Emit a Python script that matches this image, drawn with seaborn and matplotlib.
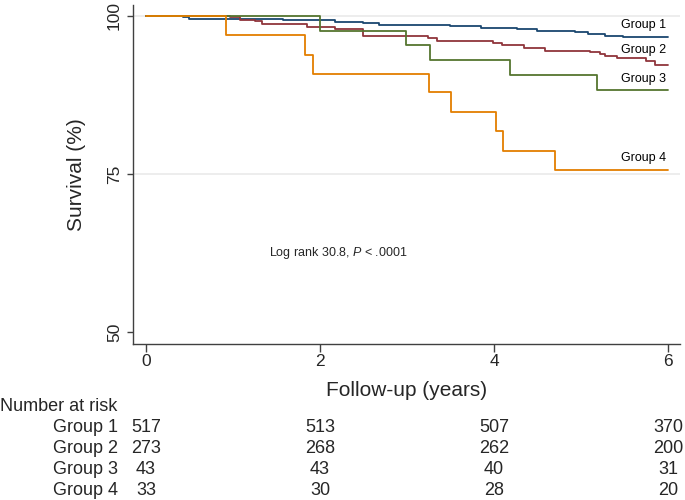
import matplotlib
matplotlib.use("Agg")
import matplotlib.pyplot as plt
import matplotlib.transforms as mtransforms
import seaborn as sns
import pandas as pd

# Kaplan-Meier step values (time in years, survival in %)
groups = ["Group 1", "Group 2", "Group 3", "Group 4"]

g1_time = [0, 0.42, 0.5, 1.57, 2.17, 2.5, 2.68, 3.0, 3.5, 3.85, 4.26, 4.5, 4.93, 5.08, 5.28, 5.48, 6.0]
g1_surv = [100, 99.8, 99.6, 99.3, 99.05, 98.85, 98.65, 98.55, 98.35, 98.1, 97.9, 97.7, 97.45, 97.2, 96.9, 96.6, 96.6]

g2_time = [0, 0.97, 1.08, 1.25, 1.33, 1.85, 2.17, 2.5, 3.24, 3.34, 3.99, 4.09, 4.35, 4.59,
           5.1, 5.22, 5.28, 5.41, 5.75, 5.85, 6.0]
g2_surv = [100, 99.8, 99.4, 99.15, 98.7, 98.25, 97.95, 96.8, 96.45, 96.0, 95.75, 95.35, 94.9, 94.5,
           94.25, 94.0, 93.7, 93.3, 92.95, 92.3, 92.3]

g3_time = [0, 2.0, 2.99, 3.26, 4.18, 5.18, 6.0]
g3_surv = [100, 97.7, 95.4, 93.0, 90.6, 88.3, 88.3]

g4_time = [0, 0.92, 1.83, 1.92, 3.25, 3.51, 4.02, 4.10, 4.70, 6.0]
g4_surv = [100, 97.0, 93.9, 90.9, 87.9, 84.8, 81.8, 78.7, 75.7, 75.7]

# label positions for the curve names (survival %)
label_y = [98.6, 94.6, 90.0, 77.6]

# number at risk table
risk_times = [0, 2, 4, 6]
risk_g1 = [517, 513, 507, 370]
risk_g2 = [273, 268, 262, 200]
risk_g3 = [43, 43, 40, 31]
risk_g4 = [33, 30, 28, 20]

colors = ["#1a476f", "#90353b", "#55752f", "#e37e00"]

sns.set_style("ticks")
plt.rcParams["font.family"] = ["Liberation Sans", "DejaVu Sans"]
plt.rcParams["mathtext.fontset"] = "custom"
plt.rcParams["mathtext.it"] = "Liberation Sans:italic"
plt.rcParams["mathtext.rm"] = "Liberation Sans"

frames = []
for name, t, s in zip(groups, [g1_time, g2_time, g3_time, g4_time],
                      [g1_surv, g2_surv, g3_surv, g4_surv]):
    frames.append(pd.DataFrame({"time": t, "surv": s, "group": name}))
df = pd.concat(frames, ignore_index=True)

fig = plt.figure(figsize=(6.85, 5.0), dpi=100)
ax = fig.add_axes([133 / 685, 156 / 500, 547 / 685, 339 / 500])

# light grid at 75 and 100
for yv in [75, 100]:
    ax.axhline(yv, color="#eaeaea", lw=1.2, zorder=0)

sns.lineplot(data=df, x="time", y="surv", hue="group", palette=colors,
             drawstyle="steps-post", estimator=None, errorbar=None,
             legend=False, lw=1.3, ax=ax)

for name, yv in zip(groups, label_y):
    ax.text(5.98, yv, name, ha="right", va="center", fontsize=9, color="black")

ax.text(1.41, 62.5, "Log rank 30.8, $P$ < .0001", ha="left", va="center", fontsize=9)

ax.set_xlim(-0.149, 6.138)
ax.set_ylim(48.1, 101.74)
ax.set_xticks([0, 2, 4, 6])
ax.set_yticks([50, 75, 100])
ax.tick_params(axis="x", labelsize=12.5, length=5.5, width=1, color="#404040", pad=2)
ax.tick_params(axis="y", labelsize=12.5, length=4.5, width=1, color="#404040", pad=3.5)
for lab in ax.get_yticklabels():
    lab.set_rotation(90)
    lab.set_va("center")

sns.despine(ax=ax)
for sp in ["left", "bottom"]:
    ax.spines[sp].set_color("#404040")
    ax.spines[sp].set_linewidth(1.0)

ax.set_xlabel("Follow-up (years)", fontsize=15)
ax.set_ylabel("Survival (%)", fontsize=15)
ax.xaxis.label.set_va("center")
ax.yaxis.label.set_va("center")
ax.xaxis.set_label_coords(0.5, (344 - 390) / 339)
ax.yaxis.set_label_coords((77 - 133) / 547, 0.5)

# number at risk table below the axis
trans = mtransforms.blended_transform_factory(ax.transData, fig.transFigure)
fig.text(0.0, (500 - 406.7) / 500, "Number at risk", ha="left", va="center", fontsize=13)
row_y = [427.3, 448.3, 469.3, 490.5]
for name, vals, py in zip(groups, [risk_g1, risk_g2, risk_g3, risk_g4], row_y):
    fy = (500 - py) / 500
    fig.text(118 / 685, fy, name, ha="right", va="center", fontsize=13)
    for t, v in zip(risk_times, vals):
        ax.text(t, fy, str(v), transform=trans, ha="center", va="center", fontsize=13)

fig.savefig("out.png", dpi=100)
